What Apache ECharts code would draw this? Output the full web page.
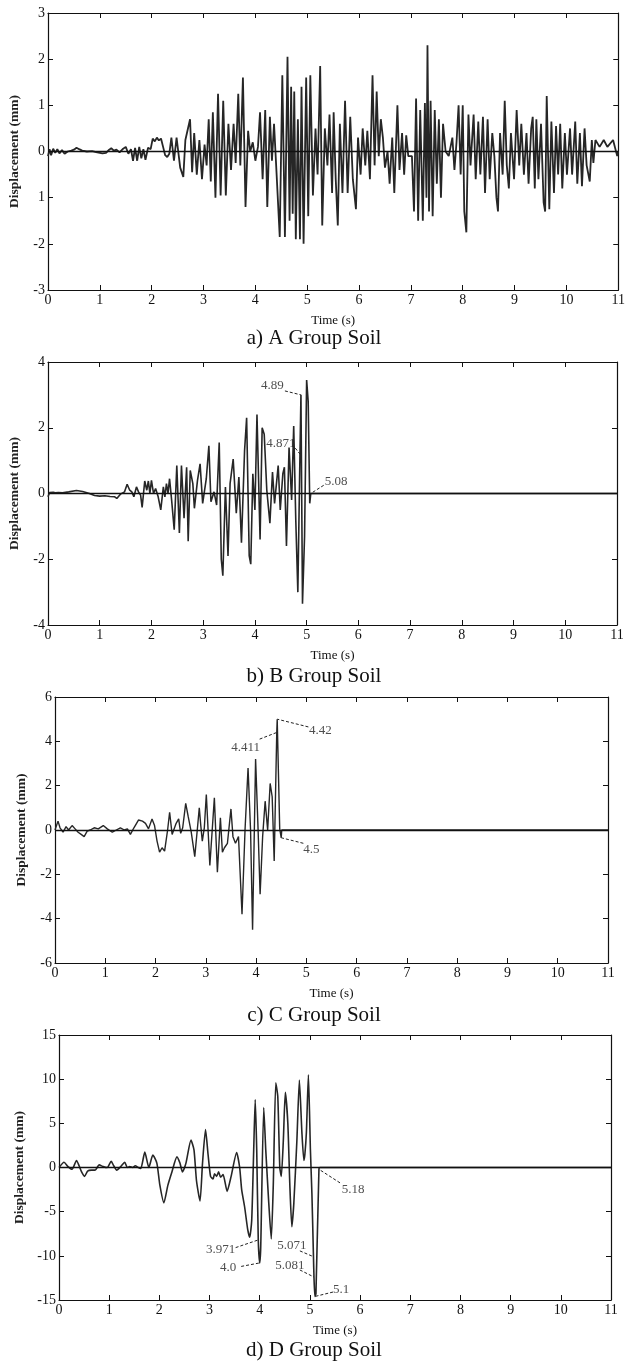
<!DOCTYPE html>
<html>
<head>
<meta charset="utf-8">
<title>Displacement time histories by soil group</title>
<script src="https://cdn.jsdelivr.net/npm/echarts@6/dist/echarts.min.js"></script>
<style>
  html, body { margin: 0; padding: 0; background: #fff; }
  #chart { width: 628px; height: 1366px; }
</style>
</head>
<body>
<div id="chart"></div>
<script>
// Time axis (s), shared by all four panels
const timeTicks = [0, 1, 2, 3, 4, 5, 6, 7, 8, 9, 10, 11];

// Panel captions
const captions = ['a) A Group Soil', 'b) B Group Soil', 'c) C Group Soil', 'd) D Group Soil'];

// Displacement axis limits (mm) per panel: [min, max, step]
const dispRanges = [[-3, 3, 1], [-4, 4, 2], [-6, 6, 2], [-15, 15, 5]];

// Tick labels of panel a, bottom to top
const tickLabelsA = ['-3', '-2', '1', '0', '1', '2', '3'];

// Displacement records, [time (s), displacement (mm)]
const soilA = [
  [0,-0.1],[0.03,0.05],[0.06,-0.08],[0.1,0.06],[0.14,-0.03],[0.18,0.05],[0.22,-0.04],[0.27,0.03],[0.32,-0.05],[0.38,0],
  [0.45,0.02],[0.5,0.04],[0.55,0.08],[0.6,0.05],[0.66,0.02],[0.75,0],[0.85,0.01],[0.95,-0.02],[1.05,-0.04],[1.12,-0.03],
  [1.18,0.04],[1.22,0.07],[1.27,0.02],[1.32,0.04],[1.38,-0.02],[1.45,0.06],[1.5,0.1],[1.55,-0.05],[1.6,0.05],[1.64,-0.2],
  [1.68,0.08],[1.72,-0.2],[1.76,0.1],[1.8,-0.15],[1.84,0.05],[1.88,-0.18],[1.93,0.08],[1.98,0.05],[2.02,0.28],[2.06,0.22],
  [2.1,0.3],[2.14,0.24],[2.18,0.28],[2.22,0.1],[2.26,-0.08],[2.3,-0.12],[2.34,-0.05],
  [2.38,0.3],[2.43,-0.2],[2.48,0.3],[2.55,-0.35],[2.61,-0.55],[2.65,0.25],[2.74,0.7],[2.78,-0.45],[2.82,0.4],[2.87,-0.5],
  [2.92,0.25],[2.97,-0.6],[3.02,0.15],[3.06,-0.3],[3.1,0.7],[3.14,-0.65],[3.18,0.85],[3.23,-1.0],[3.28,1.25],[3.33,-0.95],
  [3.38,1.1],[3.43,-0.95],[3.48,0.6],[3.53,-0.4],[3.58,0.6],[3.62,-0.25],[3.67,1.25],[3.71,-0.3],[3.76,1.6],[3.81,-1.2],
  [3.86,0.45],[3.9,0],[3.95,0.2],[4.0,-0.2],[4.05,0.1],[4.09,0.85],[4.14,-0.6],[4.19,0.9],[4.23,-1.2],[4.28,0.75],
  [4.32,-0.2],[4.36,0.6],[4.41,-0.5],[4.47,-1.85],[4.52,1.65],[4.57,-1.85],[4.62,2.05],[4.66,-1.5],[4.69,1.4],[4.72,-1.35],
  [4.75,1.3],[4.78,-1.9],[4.82,0.7],[4.86,-1.9],[4.89,1.4],[4.93,-2.0],[4.98,1.6],[5.02,-1.4],[5.06,1.65],[5.11,-0.95],
  [5.16,0.5],[5.2,-0.5],[5.25,1.85],[5.29,-1.6],[5.34,0.5],[5.39,-0.3],[5.43,0.8],[5.48,-0.9],[5.51,0.85],[5.55,-0.6],
  [5.59,-1.6],[5.63,0.6],[5.68,-0.9],[5.73,1.1],[5.78,-0.9],[5.83,0.75],[5.88,-0.6],[5.94,-1.25],[5.98,0.3],[6.03,-0.5],
  [6.07,0.5],[6.12,-0.3],[6.16,0.45],[6.21,-0.6],[6.26,1.65],[6.3,-0.3],[6.34,1.3],[6.38,-0.1],[6.42,0.7],[6.46,0.3],
  [6.5,-0.35],[6.55,0],[6.59,-0.7],[6.64,0.3],[6.68,-0.9],[6.74,1.0],[6.78,-0.4],[6.83,0.4],[6.87,-0.5],[6.91,0.35],
  [6.95,-0.1],[7.02,-0.1],[7.06,-1.3],[7.1,1.15],[7.14,-1.5],[7.18,0.9],[7.23,-1.5],[7.27,1.05],[7.3,-1.0],[7.32,2.3],
  [7.35,-1.3],[7.38,1.1],[7.42,-1.4],[7.46,0.9],[7.5,-0.7],[7.54,0.7],[7.58,-1.0],[7.62,0.6],[7.67,0],[7.73,-0.1],
  [7.8,0.3],[7.84,-0.4],[7.88,0.2],[7.92,1.0],[7.96,-0.5],[8.0,1.0],[8.03,-1.3],[8.07,-1.75],[8.11,0.8],[8.15,-0.3],
  [8.21,0.8],[8.25,-0.6],[8.3,0.65],[8.34,-0.5],[8.39,0.75],[8.43,-0.9],[8.48,0.7],[8.52,-0.6],[8.57,0.4],[8.61,-0.1],
  [8.65,-1.0],[8.68,-1.3],[8.72,0.4],[8.77,-0.5],[8.81,1.1],[8.85,-0.3],[8.89,-0.8],[8.93,0.4],[8.99,-0.6],[9.04,0.9],
  [9.09,-0.3],[9.13,0.6],[9.18,-0.5],[9.23,0.4],[9.27,-0.7],[9.32,0.5],[9.35,0.75],[9.39,-0.8],[9.42,0.7],[9.46,-0.6],
  [9.51,0.6],[9.56,-1.1],[9.59,-1.3],[9.62,1.2],[9.67,-1.25],[9.71,0.65],[9.76,-0.9],[9.8,0.55],[9.84,-0.5],[9.88,0.6],
  [9.92,-0.8],[9.97,0.4],[10.01,-0.5],[10.07,0.5],[10.11,-0.5],[10.17,0.65],[10.21,-0.7],[10.26,0.4],[10.3,-0.75],[10.35,0.5],
  [10.39,-0.3],[10.45,-0.65],[10.49,0.25],[10.52,-0.25],[10.56,0.25],[10.64,0.1],[10.72,0.25],[10.79,0.1],[10.9,0.25],[10.98,-0.1],
  [11,0]
];

const soilB = [
  [0,-0.1],[0.03,0.03],[0.06,0],[0.1,0.04],[0.14,0.02],[0.2,0.03],[0.28,0.02],[0.4,0.05],[0.55,0.09],[0.67,0.06],
  [0.8,0],[0.9,-0.06],[1.0,-0.08],[1.1,-0.07],[1.2,-0.09],[1.29,-0.1],[1.33,-0.15],[1.4,-0.02],[1.48,0.05],[1.53,0.28],
  [1.58,0.1],[1.62,0.05],[1.66,-0.1],[1.71,0.2],[1.75,0.05],[1.79,-0.05],[1.82,-0.42],[1.87,0.38],[1.91,0.1],[1.94,0.38],
  [1.97,0],[2.0,0.4],[2.04,0],[2.08,0.15],[2.13,-0.1],[2.18,-0.5],[2.23,0.2],[2.26,-0.1],[2.29,0.3],[2.32,0],
  [2.35,0.45],[2.39,-0.2],[2.44,-1.1],[2.49,0.85],[2.54,-1.2],[2.58,0.85],[2.63,-0.75],[2.68,0.8],[2.71,-1.45],[2.75,0.7],
  [2.8,0.3],[2.83,-0.45],[2.89,0.4],[2.94,0.9],[2.99,-0.3],[3.06,0.45],[3.11,1.45],[3.15,-0.25],[3.21,0.05],[3.26,-0.35],
  [3.31,1.55],[3.35,-2.0],[3.38,-2.5],[3.43,0.2],[3.48,-1.9],[3.52,0.3],[3.58,1.05],[3.64,-0.6],[3.69,0.5],[3.74,-1.5],
  [3.8,1.3],[3.84,2.3],[3.89,-1.9],[3.92,-2.15],[3.96,0.6],[4.0,-0.5],[4.04,2.4],[4.1,-1.4],[4.14,2.0],[4.18,1.8],
  [4.23,0.1],[4.29,-0.9],[4.34,0.65],[4.38,-0.3],[4.45,0.85],[4.49,-0.5],[4.54,0.6],[4.57,0.8],[4.61,-1.6],[4.66,1.4],
  [4.71,-0.2],[4.75,2.05],[4.79,-0.8],[4.83,-3.0],[4.871,1.2],[4.89,3.0],[4.92,-3.35],[4.96,-1.3],[5.0,3.45],[5.03,2.8],
  [5.06,-0.3],[5.08,0],[11,0]
];

const soilC = [
  [0,0],[0.06,0.4],[0.1,0.1],[0.16,-0.1],[0.22,0.15],[0.27,0],[0.34,0.2],[0.4,0.05],[0.46,-0.1],[0.52,-0.2],
  [0.58,-0.3],[0.64,-0.05],[0.7,0],[0.78,0.1],[0.86,0.05],[0.96,0.2],[1.04,0.05],[1.14,-0.1],[1.22,0],[1.3,0.1],
  [1.38,0],[1.44,0.05],[1.5,-0.2],[1.57,0.1],[1.66,0.45],[1.74,0.4],[1.8,0.3],[1.86,0.05],[1.93,0.5],[1.98,0.2],
  [2.03,-0.5],[2.08,-1.0],[2.13,-0.8],[2.18,-0.95],[2.24,0],[2.28,0.8],[2.33,-0.2],[2.36,-0.15],[2.41,0.3],[2.46,0.5],
  [2.5,-0.15],[2.54,0.1],[2.6,1.2],[2.65,0.6],[2.71,-0.1],[2.78,-1.2],[2.83,0],[2.87,1.0],[2.9,0.2],[2.93,-0.5],
  [2.97,0.1],[3.01,1.6],[3.08,-1.6],[3.17,1.45],[3.23,-1.9],[3.29,0.55],[3.33,-1.0],[3.37,-0.8],[3.43,-0.6],[3.5,0.95],
  [3.54,-0.3],[3.59,-0.6],[3.65,-0.3],[3.72,-3.8],[3.78,0],[3.84,2.8],[3.89,0],[3.93,-4.5],[3.99,3.2],[4.04,0],
  [4.08,-2.9],[4.13,-0.3],[4.18,1.3],[4.23,0],[4.28,2.1],[4.32,1.5],[4.36,-1.4],[4.411,4.4],[4.42,5.0],[4.47,0.05],
  [4.5,-0.35],[4.51,0],[11,0]
];

const soilD = [
  [0,0],[0.1,0.6],[0.18,0.1],[0.26,-0.2],[0.35,0.8],[0.4,0.2],[0.45,-0.5],[0.51,-1.0],[0.57,-0.4],[0.65,-0.3],
  [0.72,-0.3],[0.8,0.3],[0.88,0.1],[0.96,0],[1.04,0.7],[1.09,0.2],[1.15,-0.3],[1.23,0.1],[1.31,0.6],[1.36,0],
  [1.41,0.1],[1.47,0],[1.52,0.2],[1.58,0],[1.63,-0.1],[1.71,1.75],[1.79,0],[1.87,1.4],[1.95,0.5],[2.01,-2.0],
  [2.09,-4.0],[2.17,-2.0],[2.25,-0.5],[2.35,1.2],[2.41,0.5],[2.46,-0.5],[2.53,0.5],[2.63,3.1],[2.69,2.0],[2.74,-1.5],
  [2.81,-3.8],[2.86,0.5],[2.92,4.3],[2.97,1.5],[3.02,-1.0],[3.07,-1.3],[3.1,-0.7],[3.14,-1.0],[3.18,-0.5],[3.22,-1.1],
  [3.27,-0.8],[3.35,-2.7],[3.43,-1.0],[3.54,1.7],[3.6,0],[3.64,-2.5],[3.7,-4.5],[3.76,-7.0],[3.8,-7.9],[3.84,-6.0],
  [3.88,2.0],[3.91,7.7],[3.94,2.0],[3.971,-8.2],[4.0,-10.8],[4.02,-9.0],[4.08,6.8],[4.12,2.0],[4.18,-4.0],[4.23,-8.1],
  [4.27,-2.0],[4.32,9.6],[4.36,8.0],[4.4,0],[4.43,-1.0],[4.47,3.0],[4.51,8.5],[4.56,5.0],[4.6,-2.0],[4.64,-6.7],
  [4.68,-4.0],[4.74,3.0],[4.79,9.9],[4.84,4.0],[4.88,0.8],[4.9,1.5],[4.93,4.0],[4.97,10.5],[5.01,2.0],[5.04,-3.0],
  [5.071,-10.1],[5.081,-12.4],[5.1,-14.6],[5.12,-14.3],[5.18,-0.2],[5.2,0],[11,0]
];

// Time instants called out on panels b, c, d
const marksB = ['4.89', '4.871', '5.08'];
const marksC = ['4.411', '4.42', '4.5'];
const marksD = ['3.971', '4.0', '5.071', '5.081', '5.1', '5.18'];

// Where each call-out text sits and where its dashed leader starts (data units)
const calloutLayout = {
  B: [
    { text: [4.34, 3.27], from: [4.58, 3.12] },
    { text: [4.5, 1.52], from: [4.78, 1.38] },
    { text: [5.57, 0.37], from: [5.33, 0.25] }
  ],
  C: [
    { text: [3.79, 3.72], from: [4.07, 4.1] },
    { text: [5.28, 4.5], from: [5.04, 4.65] },
    { text: [5.1, -0.87], from: [4.94, -0.6] }
  ],
  D: [
    { text: [3.22, -9.3], from: [3.52, -9.07] },
    { text: [3.37, -11.37], from: [3.63, -11.2] },
    { text: [4.64, -8.88], from: [4.8, -9.44] },
    { text: [4.6, -11.07], from: [4.8, -11.6] },
    { text: [5.62, -13.8], from: [5.46, -14.1] },
    { text: [5.86, -2.5], from: [5.6, -1.74] }
  ]
};

const panels = [
  { data: soilA, grid: { left: 41, top: 13, width: 578, height: 277 }, nameGap: 26, caption: 340, width: 1.8, smooth: false },
  { data: soilB, grid: { left: 45, top: 362, width: 572, height: 263 }, nameGap: 26, caption: 678, width: 1.6, smooth: false, marks: marksB, layout: calloutLayout.B },
  { data: soilC, grid: { left: 55, top: 697, width: 553, height: 266 }, nameGap: 26, caption: 1017, width: 1.4, smooth: false, marks: marksC, layout: calloutLayout.C },
  { data: soilD, grid: { left: 59, top: 1035, width: 552, height: 265 }, nameGap: 32, caption: 1352, width: 1.6, smooth: 0.2, marks: marksD, layout: calloutLayout.D }
];

const serif = '"Liberation Serif", "DejaVu Serif", serif';
const ink = '#111111';

function valueAt(series, t) {
  const hit = series.find(p => Math.abs(p[0] - t) < 1e-9);
  return hit ? hit[1] : 0;
}

const option = {
  animation: false,
  backgroundColor: '#ffffff',
  title: [],
  grid: [],
  xAxis: [],
  yAxis: [],
  series: []
};

panels.forEach((p, i) => {
  const [ymin, ymax, ystep] = dispRanges[i];
  option.grid.push(Object.assign({ containLabel: false }, p.grid));

  option.title.push({
    text: captions[i],
    left: 'center',
    top: p.caption - 12,
    padding: 0,
    textStyle: { fontFamily: serif, fontSize: 21, fontWeight: 'normal', color: '#111' }
  });

  const tickStyle = { show: true, inside: true, length: 5, lineStyle: { color: ink, width: 1 } };
  const lineStyle = { show: true, onZero: false, lineStyle: { color: ink, width: 1.2 } };

  option.xAxis.push({
    gridIndex: i, type: 'value', position: 'bottom',
    min: timeTicks[0], max: timeTicks[timeTicks.length - 1], interval: 1,
    axisLine: lineStyle, axisTick: tickStyle, splitLine: { show: false },
    axisLabel: { fontFamily: serif, fontSize: 14, color: '#111', margin: 3 },
    name: 'Time (s)', nameLocation: 'middle', nameGap: 24,
    nameTextStyle: { fontFamily: serif, fontSize: 13, color: '#111' }
  });
  option.xAxis.push({
    gridIndex: i, type: 'value', position: 'top',
    min: timeTicks[0], max: timeTicks[timeTicks.length - 1], interval: 1,
    axisLine: lineStyle, axisTick: tickStyle, splitLine: { show: false },
    axisLabel: { show: false }
  });
  option.yAxis.push({
    gridIndex: i, type: 'value', position: 'left',
    min: ymin, max: ymax, interval: ystep,
    axisLine: lineStyle, axisTick: tickStyle, splitLine: { show: false },
    axisLabel: {
      fontFamily: serif, fontSize: 14, color: '#111', margin: 3,
      formatter: i === 0 ? (v => tickLabelsA[Math.round(v - ymin)]) : (v => String(v))
    },
    name: 'Displacement (mm)', nameLocation: 'middle', nameGap: p.nameGap, nameRotate: 90,
    nameTextStyle: { fontFamily: serif, fontSize: 13.5, fontWeight: 'bold', color: '#222' }
  });
  option.yAxis.push({
    gridIndex: i, type: 'value', position: 'right',
    min: ymin, max: ymax, interval: ystep,
    axisLine: lineStyle, axisTick: tickStyle, splitLine: { show: false },
    axisLabel: { show: false }
  });

  option.series.push({
    type: 'line',
    xAxisIndex: 2 * i, yAxisIndex: 2 * i,
    data: p.data,
    showSymbol: false,
    smooth: p.smooth,
    lineStyle: { color: '#262626', width: p.width },
    markLine: {
      silent: true, symbol: 'none', label: { show: false },
      lineStyle: { color: ink, width: 1.4, type: 'solid' },
      data: [{ yAxis: 0 }]
    },
    z: 3
  });

  if (p.marks) {
    const texts = p.marks.map((m, k) => ({
      value: p.layout[k].text,
      name: m
    }));
    const leaders = p.marks.map((m, k) => {
      const t = parseFloat(m);
      return [{ coord: p.layout[k].from }, { coord: [t, valueAt(p.data, t)] }];
    });
    option.series.push({
      type: 'scatter',
      xAxisIndex: 2 * i, yAxisIndex: 2 * i,
      data: texts,
      symbolSize: 1,
      itemStyle: { color: 'rgba(0,0,0,0)' },
      label: {
        show: true, position: 'inside', formatter: '{b}',
        fontFamily: serif, fontSize: 13, color: '#222'
      },
      markLine: {
        silent: true, symbol: 'none', label: { show: false },
        lineStyle: { color: '#222', width: 1, type: [3, 2] },
        data: leaders
      },
      z: 4
    });
  }
});

const chart = echarts.init(document.getElementById('chart'), null, { renderer: 'canvas' });
chart.setOption(option);
</script>
</body>
</html>
